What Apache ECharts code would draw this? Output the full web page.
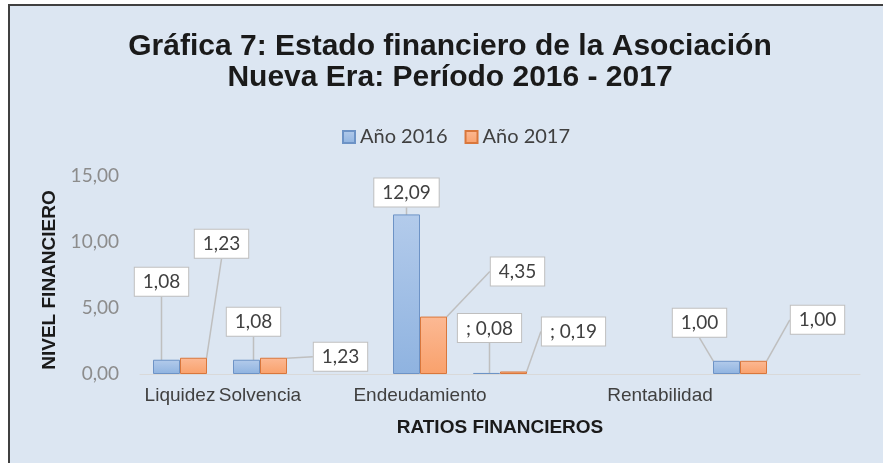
<!DOCTYPE html>
<html><head><meta charset="utf-8">
<script src="https://cdn.jsdelivr.net/npm/echarts@6/dist/echarts.min.js"></script>
<style>html,body{margin:0;padding:0;background:#fff}#c{width:883px;height:463px}</style>
</head><body><div id="c"></div>
<script>
// ---- data ----
const categories = ["Liquidez", "Solvencia", "", "Endeudamiento", "", "", "Rentabilidad", "", ""];
const values2016 = [1.08, 1.08, null, 12.09, 0.08, null, null, 1.00, null];
const values2017 = [1.23, 1.23, null, 4.35, 0.19, null, null, 1.00, null];
const labelPrefix = ["", "", "", "", "; ", "", "", "", ""];
const seriesNames = ["Año 2016", "Año 2017"];
const titleLines = ["Gráfica 7: Estado financiero de la Asociación", "Nueva Era: Período 2016 - 2017"];
const yMin = 0, yMax = 15, yInterval = 5;

// ---- callout offsets (styling only) ----
const off2016 = {0: [-5, -64], 1: [7, -24], 3: [0, -8], 4: [3, -31], 7: [-27, -24]};
const off2017 = {0: [28, -100], 1: [67, 13], 3: [84, -31], 4: [60, -26], 7: [64, -27]};
const offsets = [off2016, off2017];

const fmt = v => v.toFixed(2).replace('.', ',');
const labelFont = 'Lato, "Open Sans", sans-serif';
const arial = '"Liberation Sans", Arial, sans-serif';

const chart = echarts.init(document.getElementById('c'), null, {renderer: 'canvas'});

function barSeries(name, data, top, bottom, border) {
  return {
    name: name, type: 'bar', data: data,
    barWidth: 27, barGap: '0%',
    itemStyle: {
      color: new echarts.graphic.LinearGradient(0, 0, 0, 1, [{offset: 0, color: top}, {offset: 1, color: bottom}]),
      borderColor: border, borderWidth: 1
    },
    label: {
      show: true, position: 'top', distance: 0,
      formatter: p => labelPrefix[p.dataIndex] + fmt(p.value),
      fontFamily: labelFont, fontSize: 19, color: '#404040',
      backgroundColor: '#ffffff', borderColor: '#bfbfbf', borderWidth: 1,
      padding: [5, 8, 4, 8]
    },
    labelLine: {show: true, lineStyle: {color: '#bfbfbf', width: 1.5}},
    labelLayout: function (p) {
      const o = offsets[p.seriesIndex][p.dataIndex] || [0, 0];
      return {dx: o[0], dy: o[1]};
    }
  };
}

const titleStyle = {fontFamily: arial, fontWeight: 'bold', fontSize: 30, fill: '#1a1a1a', align: 'center', verticalAlign: 'middle'};

chart.setOption({
  animation: false,
  backgroundColor: '#ffffff',
  graphic: [
    {type: 'rect', z: -10, silent: true,
     shape: {x: 9, y: 5, width: 900, height: 480},
     style: {fill: '#dce6f2', stroke: '#404040', lineWidth: 2}},
    {type: 'text', x: 450, y: 47, style: Object.assign({text: titleLines[0]}, titleStyle)},
    {type: 'text', x: 450, y: 78, style: Object.assign({text: titleLines[1]}, titleStyle)}
  ],
  legend: {
    top: 122, left: 337, itemWidth: 12, itemHeight: 12, itemGap: 17,
    icon: 'rect',
    textStyle: {fontFamily: labelFont, fontSize: 20, color: '#404040'},
    data: seriesNames
  },
  grid: {left: 140, right: 23, top: 176, bottom: 89},
  xAxis: {
    type: 'category', data: categories,
    axisLine: {lineStyle: {color: '#d9d9d9'}},
    axisTick: {show: false},
    axisLabel: {interval: 0, fontFamily: arial, fontSize: 19, color: '#404040', margin: 12},
    name: 'RATIOS FINANCIEROS', nameLocation: 'middle', nameGap: 44,
    nameTextStyle: {fontFamily: arial, fontWeight: 'bold', fontSize: 19, color: '#1a1a1a'}
  },
  yAxis: {
    type: 'value', min: yMin, max: yMax, interval: yInterval,
    axisLine: {show: false}, axisTick: {show: false},
    splitLine: {show: false},
    axisLabel: {formatter: v => fmt(v), fontFamily: labelFont, fontSize: 19, color: '#8c8c8c', margin: 21},
    name: 'NIVEL FINANCIERO', nameLocation: 'middle', nameGap: 72, nameRotate: 90,
    nameTextStyle: {fontFamily: arial, fontWeight: 'bold', fontSize: 19, color: '#1a1a1a', padding: [0, 10, 0, 0]}
  },
  series: [
    barSeries(seriesNames[0], values2016, '#b3cbeb', '#8fb3e0', '#6d93c6'),
    barSeries(seriesNames[1], values2017, '#fcb994', '#f9a16c', '#d9773c')
  ]
});
</script></body></html>
